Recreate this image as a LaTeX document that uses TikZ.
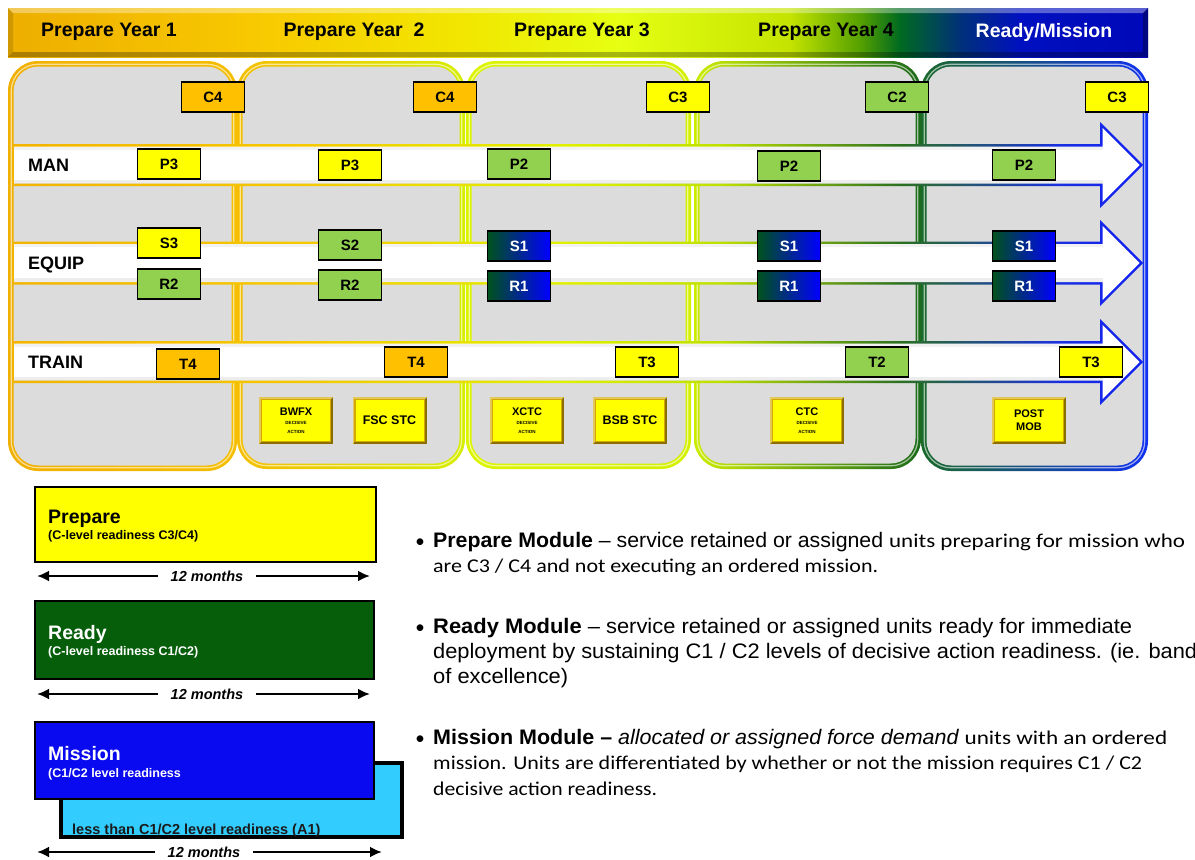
\documentclass[tikz,border=0pt]{standalone}
\usepackage{fontspec}
\usepackage{graphicx}
\setmainfont{Liberation Sans}
\newfontfamily\carl{Carlito}
\newfontfamily\narr[FakeStretch=0.86]{Liberation Sans}
\usetikzlibrary{arrows.meta}
% banner colours
\definecolor{bo1}{HTML}{EDAE00}\definecolor{bo2}{HTML}{F8C800}
\definecolor{bo3}{HTML}{F2E600}\definecolor{bo4}{HTML}{E6FF12}
\definecolor{bo5}{HTML}{C4E400}\definecolor{bo6}{HTML}{54A000}
\definecolor{bo7}{HTML}{006A20}\definecolor{bo8}{HTML}{00307A}
\definecolor{bo9}{HTML}{0010C0}\definecolor{bo10}{HTML}{0008B8}
% arrow outline colours
\definecolor{ao1}{HTML}{F2B400}\definecolor{ao2}{HTML}{F5C800}
\definecolor{ao3}{HTML}{E0F000}\definecolor{ao4}{HTML}{BEE000}
\definecolor{ao5}{HTML}{2A7020}\definecolor{ao6}{HTML}{1A30E0}
\definecolor{ao7}{HTML}{1020F5}
% panels
\definecolor{pa1}{HTML}{F0B000}\definecolor{pb1}{HTML}{F5BE00}
\definecolor{pa2}{HTML}{F5BE00}\definecolor{pb2}{HTML}{D6EE00}
\definecolor{pa3}{HTML}{DCF400}\definecolor{pb3}{HTML}{D4F000}
\definecolor{pa4}{HTML}{CCEC00}\definecolor{pb4}{HTML}{1A6A1A}
\definecolor{pa5}{HTML}{1A6A2A}\definecolor{pb5}{HTML}{1030F0}
\definecolor{panelgray}{HTML}{DCDCDC}
% badges
\definecolor{corange}{HTML}{FFC000}
\definecolor{cyellow}{HTML}{FFFF00}
\definecolor{cgreen}{HTML}{92D050}
\definecolor{dkgreen}{HTML}{00521C}
\definecolor{cblue}{HTML}{0000FF}
\definecolor{btnedge}{HTML}{D4AA00}
\definecolor{legyellow}{HTML}{FFFF00}
\definecolor{leggreen}{HTML}{065E0A}
\definecolor{legblue}{HTML}{0A0AF0}
\definecolor{leglight}{HTML}{33CCFF}
\definecolor{txtgray}{HTML}{1A1A1A}

\pgfdeclarehorizontalshading{bannershade}{100bp}{color(0bp)=(bo1); color(25bp)=(bo1); color(35.6bp)=(bo2); color(44.8bp)=(bo3); color(51.8bp)=(bo4); color(59.3bp)=(bo5); color(62.4bp)=(bo6); color(64.1bp)=(bo7); color(66.8bp)=(bo8); color(69.4bp)=(bo9); color(75bp)=(bo10); color(100bp)=(bo10)}
\pgfdeclarehorizontalshading{arrowshade}{100bp}{color(0bp)=(ao1); color(25bp)=(ao1); color(37.7bp)=(ao2); color(49.2bp)=(ao3); color(56.3bp)=(ao4); color(64.3bp)=(ao5); color(71.3bp)=(ao6); color(75bp)=(ao7); color(100bp)=(ao7)}

\tikzset{
  bannerlbl/.style={font=\fontsize{19.5}{19.5}\selectfont\bfseries, text=black, inner sep=0pt},
  rowlbl/.style={font=\fontsize{18}{18}\selectfont\bfseries, anchor=west, inner sep=0pt},
  badge/.style={draw=black, line width=1.6pt, minimum width=63pt, minimum height=30pt, inner sep=0pt, font=\fontsize{15}{15}\selectfont\bfseries},
  bo/.style={badge, fill=corange},
  by/.style={badge, fill=cyellow},
  bg/.style={badge, fill=cgreen},
  bb/.style={badge, left color=dkgreen, right color=cblue, text=white},
  btn/.style={draw=btnedge, line width=3pt, fill=cyellow, minimum width=71pt, minimum height=44pt, inner sep=0pt, align=center, font=\fontsize{11}{11.5}\selectfont\bfseries},
  legbox/.style={draw=black, line width=1.5pt, anchor=north west, inner sep=0pt},
  legtitle/.style={anchor=base west, inner sep=0pt, font=\fontsize{19.5}{19.5}\selectfont\bfseries},
  legsub/.style={anchor=base west, inner sep=0pt, font=\fontsize{12.5}{12.5}\selectfont\bfseries},
  months/.style={inner xsep=13pt, inner ysep=0pt, font=\fontsize{14.5}{14.5}\selectfont\bfseries\itshape},
  dimarr/.style={line width=2.8pt, -{Latex[length=12pt,width=11pt]}},
  txt/.style={anchor=base west, inner sep=0pt},
  bul/.style={anchor=base, inner sep=0pt, font=\carl\fontsize{19}{19}\selectfont}
}
\newcommand{\smalltxt}[1]{{\fontsize{4.5}{5}\selectfont #1}}

\begin{document}
\begin{tikzpicture}[x=1pt,y=-1pt]
\useasboundingbox (0,0) rectangle (1195,860);
\fill[white] (0,0) rectangle (1195,860);

% ---------------- banner ----------------
\shade[shading=bannershade] (8,8) rectangle (1148,57);
\fill[white,opacity=.35] (8,8) -- (1148,8) -- (1143,13) -- (13,13) -- cycle;
\fill[black,opacity=.28] (8,57) -- (1148,57) -- (1143,52) -- (13,52) -- cycle;
\fill[black,opacity=.12] (8,8) -- (13,13) -- (13,52) -- (8,57) -- cycle;
\fill[black,opacity=.3] (1148,8) -- (1143,13) -- (1143,52) -- (1148,57) -- cycle;
\node[bannerlbl] (y1) at (109,32) {Prepare Year 1};
\node[bannerlbl] (y2) at (354,32) {Prepare Year~~2};
\node[bannerlbl] (y3) at (582,32) {Prepare Year 3};
\node[bannerlbl] (y4) at (826,32) {Prepare Year 4};
\node[bannerlbl, text=white] (y5) at (1044,32) {Ready/Mission};

% ---------------- panels ----------------
\foreach \xa/\xb/\yb/\n in {8/237/471/1, 237/465/469/2, 466/691/469/3, 694/921/469/4, 921/1148/471/5}{
  \shade[left color=pa\n, right color=pb\n, rounded corners=30pt] (\xa,61) rectangle (\xb,\yb);
  \draw[white, opacity=.6, line width=1.2pt, rounded corners=27pt] (\xa+3.2,64.2) rectangle (\xb-3.2,\yb-3.2);
  \fill[panelgray, rounded corners=25pt] (\xa+5.5,66.5) rectangle (\xb-5.5,\yb-5.5);
}

% ---------------- arrows ----------------
\foreach \m/\h in {165/21, 263/21.5, 362/21}{
  \shade[shading=arrowshade] (12,\m-\h) -- (1100,\m-\h) -- (1100,\m-43) -- (1143,\m) -- (1100,\m+43) -- (1100,\m+\h) -- (12,\m+\h) -- cycle;
  \fill[white] (14,\m-\h+2.5) -- (1102.5,\m-\h+2.5) -- (1102.5,\m-37) -- (1139.5,\m) -- (1102.5,\m+37) -- (1102.5,\m+\h-2.5) -- (14,\m+\h-2.5) -- cycle;
  \fill[black,opacity=.07] (14,\m+\h-2.5) rectangle (1102.5,\m+\h-6.5);
  \fill[black,opacity=.05] (14,\m-\h+2.5) rectangle (1102.5,\m-\h+5.5);
}
\node[rowlbl] (man) at (28,165) {MAN};
\node[rowlbl] (equip) at (28,265) {EQUIP};
\node[rowlbl] (train) at (28,362) {TRAIN};

% ---------------- badges ----------------
\node[bo] (c1) at (213,97) {C4};
\node[bo] (c2) at (445,97) {C4};
\node[by] (c3) at (678,97) {C3};
\node[bg] (c4) at (897,97) {C2};
\node[by] (c5) at (1117,97) {C3};

\node[by] (p1) at (169,164) {P3};
\node[by] (p2) at (350,165) {P3};
\node[bg] (p3) at (519,164) {P2};
\node[bg] (p4) at (789,166) {P2};
\node[bg] (p5) at (1024,165) {P2};

\node[by] (s1) at (169,243) {S3};
\node[bg] (s2) at (350,245) {S2};
\node[bb] (s3) at (519,246) {S1};
\node[bb] (s4) at (789,246) {S1};
\node[bb] (s5) at (1024,246) {S1};

\node[bg] (r1) at (169,284) {R2};
\node[bg] (r2) at (350,285) {R2};
\node[bb] (r3) at (519,286) {R1};
\node[bb] (r4) at (789,286) {R1};
\node[bb] (r5) at (1024,286) {R1};

\node[bo] (t1) at (188,364) {T4};
\node[bo] (t2) at (416,362) {T4};
\node[by] (t3) at (647,362) {T3};
\node[bg] (t4) at (877,362) {T2};
\node[by] (t5) at (1091,362) {T3};

% ---------------- buttons ----------------
\node[btn] (bwfx) at (296,420.5) {BWFX\\[-2pt]\smalltxt{DECISIVE}\\[-3pt]\smalltxt{ACTION}};
\node[btn, font=\fontsize{12.5}{13}\selectfont\bfseries] (fsc) at (389.5,420.5) {FSC STC};
\node[btn] (xctc) at (527,420.5) {XCTC\\[-2pt]\smalltxt{DECISIVE}\\[-3pt]\smalltxt{ACTION}};
\node[btn, font=\fontsize{12.5}{13}\selectfont\bfseries] (bsb) at (630,420.5) {BSB STC};
\node[btn] (ctc) at (807,420.5) {CTC\\[-2pt]\smalltxt{DECISIVE}\\[-3pt]\smalltxt{ACTION}};
\node[btn, font=\fontsize{11}{13}\selectfont\bfseries] (post) at (1029,420.5) {POST\\MOB};
\foreach \b in {bwfx,fsc,xctc,bsb,ctc,post}{
  \draw[black, opacity=.35, line width=2pt] ([shift={(1,-1)}]\b.south west) -- ([shift={(-1,-1)}]\b.south east) -- ([shift={(-1,1)}]\b.north east);
  \draw[white, opacity=.35, line width=1.5pt] ([shift={(1,-1)}]\b.south west) -- ([shift={(1,1)}]\b.north west) -- ([shift={(-1,1)}]\b.north east);
}

% ---------------- legend ----------------
\node[legbox, fill=legyellow, minimum width=341pt, minimum height=75pt] (prep) at (34,486) {};
\node[legtitle] (preptl) at (48,523) {Prepare};
\node[legsub] (prepsub) at (48,539) {(C-level readiness C3/C4)};
\node[months] (m1) at (207,576) {12 months};
\coordinate (m1l) at (37,576);
\coordinate (m1r) at (370,576);
\draw[dimarr] (m1.west) -- (m1l);
\draw[dimarr] (m1.east) -- (m1r);

\node[legbox, fill=leggreen, minimum width=339pt, minimum height=78pt] (ready) at (34,600) {};
\node[legtitle, text=white] (readytl) at (48,639) {Ready};
\node[legsub, text=white] (readysub) at (48,655) {(C-level readiness C1/C2)};
\node[months] (m2) at (207,694) {12 months};
\coordinate (m2l) at (37,694);
\coordinate (m2r) at (370,694);
\draw[dimarr] (m2.west) -- (m2l);
\draw[dimarr] (m2.east) -- (m2r);

\node[legbox, fill=leglight, line width=4pt, minimum width=341pt, minimum height=74pt] (mback) at (59,761) {};
\node[txt, text=txtgray, font=\fontsize{14.5}{14.5}\selectfont\bfseries] (mbtxt) at (72,834) {less than C1/C2 level readiness (A1)};
\node[legbox, fill=legblue, minimum width=339pt, minimum height=77pt] (mission) at (34,721) {};
\node[legtitle, text=white] (missiontl) at (48,760) {Mission};
\node[legsub, text=white] (missionsub) at (48,777) {(C1/C2 level readiness};
\node[months] (m3) at (204,852) {12 months};
\coordinate (m3l) at (37,852);
\coordinate (m3r) at (382,852);
\draw[dimarr] (m3.west) -- (m3l);
\draw[dimarr] (m3.east) -- (m3r);

% ---------------- right text ----------------
\node[bul] (b1) at (420,547) {•};
\node[txt] (l1) at (433,547) {\resizebox{752pt}{\height}{\narr\fontsize{21}{21}\selectfont\bfseries Prepare Module \mdseries– service retained or assigned \carl\fontsize{19.5}{19.5}\selectfont units preparing for mission who}};
\node[txt] (l2) at (433,572) {\resizebox{445pt}{\height}{\carl\fontsize{19.5}{19.5}\selectfont are C3 / C4 and not executing an ordered mission.}};

\node[bul] (b2) at (420,633) {•};
\node[txt] (r1t) at (433,633) {\resizebox{699pt}{\height}{\narr\fontsize{21}{21}\selectfont\bfseries Ready Module \mdseries– service retained or assigned units ready for immediate}};
\node[txt] (r2t) at (433,658) {\resizebox{764pt}{\height}{\narr\fontsize{21}{21}\selectfont deployment by sustaining C1 / C2 levels of decisive action readiness. (ie. band}};
\node[txt] (r3t) at (433,683) {\resizebox{135pt}{\height}{\narr\fontsize{21}{21}\selectfont of excellence)}};

\node[bul] (b3) at (420,744) {•};
\node[txt] (mi1) at (433,744) {\resizebox{734pt}{\height}{\narr\fontsize{21}{21}\selectfont\bfseries Mission Module – \mdseries\itshape allocated or assigned force demand \upshape\carl\fontsize{19.5}{19.5}\selectfont units with an ordered}};
\node[txt] (mi2) at (433,769) {\resizebox{709pt}{\height}{\carl\fontsize{19.5}{19.5}\selectfont mission. Units are differentiated by whether or not the mission requires C1 / C2}};
\node[txt] (mi3) at (433,795) {\resizebox{224pt}{\height}{\carl\fontsize{19.5}{19.5}\selectfont decisive action readiness.}};
\end{tikzpicture}
\end{document}
